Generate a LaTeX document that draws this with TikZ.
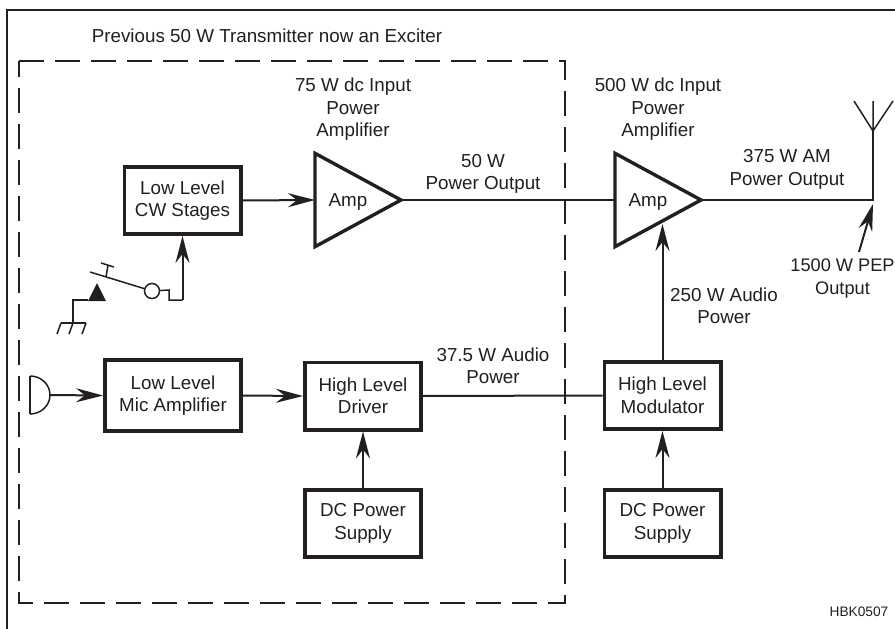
\documentclass[tikz,border=0pt]{standalone}
\usepackage{fontspec}
\setmainfont{Liberation Sans}
\usetikzlibrary{arrows.meta,shapes.geometric,calc}
\definecolor{ink}{HTML}{231F20}
\tikzset{
  lbl/.style={inner sep=0pt,align=center,text=ink,font=\fontsize{18.8}{22.5}\selectfont},
  blockbox/.style={draw=ink,line width=3.6pt,fill=white,minimum width=116.4pt,minimum height=67.4pt,inner sep=0pt,align=center,text=ink,font=\fontsize{18.8}{22.5}\selectfont},
  ampbox/.style={draw=ink,line width=3.4pt,fill=white,isosceles triangle,isosceles triangle apex angle=57,minimum height=86pt,inner sep=0pt,outer sep=0pt,anchor=lower side},
  wire/.style={draw=ink,line width=2pt},
  feed/.style={wire,-{Stealth[length=27pt,width=14pt,inset=9pt]}},
  thin wire/.style={draw=ink,line width=1.5pt},
  dash box/.style={draw=ink,line width=2.2pt,dash pattern=on 25pt off 11pt}
}
\begin{document}
\begin{tikzpicture}[x=1pt,y=-1pt]
\useasboundingbox (0,0) rectangle (895,629);
\fill[white] (0,0) rectangle (895,629);
% frame
\draw[ink,line width=2.4pt] (7,629) -- (7,10) -- (895,10);
% dashed enclosure
\draw[dash box] (19,61) -- (565,61) -- (565,603) -- (19,603) -- cycle;
\node[lbl] (title) at (267,36) {Previous 50 W Transmitter now an Exciter};
% blocks
\node[blockbox] (cw) at (182.5,200.5) {Low Level\\CW Stages};
\node[blockbox,minimum width=136.4pt,minimum height=71pt] (mic) at (173,395.5) {Low Level\\Mic Amplifier};
\node[blockbox] (drv) at (363,396) {High Level\\Driver};
\node[blockbox] (mod) at (662.5,395.5) {High Level\\Modulator};
\node[blockbox] (dc1) at (363,523.5) {DC Power\\Supply};
\node[blockbox] (dc2) at (662.5,523.5) {DC Power\\Supply};
\node[ampbox] (a1) at (315,200) {};
\node[ampbox] (a2) at (615,200) {};
\node[lbl,anchor=base] (a1t) at (348,206) {Amp};
\node[lbl,anchor=base] (a2t) at (648,206) {Amp};
% antenna
\coordinate (ant) at (873,131);
\coordinate (junc) at (873,200);
\coordinate (anttop) at (873,101);
\coordinate (antl) at (854,101);
\coordinate (antr) at (893,101);
\draw[wire] (a2.apex) -- (junc) -- (ant);
\draw[thin wire] (anttop) -- (ant) (antl) -- (ant) -- (antr);
% connections
\draw[feed] (cw.east) -- (a1.lower side);
\draw[wire] (a1.apex) -- (a2.lower side);
\draw[feed] (mic.east) -- (drv.west);
\draw[wire] (drv.east) -- (mod.west);
\draw[feed] (dc1.north) -- (drv.south);
\draw[feed] (dc2.north) -- (mod.south);
\coordinate (a2in) at (662.5,224);
\draw[feed] (mod.north) -- (a2in);
% microphone
\node[draw=none,inner sep=0pt,minimum size=0pt] (micsym) at (50,395) {};
\draw[thin wire,fill=white] (30,376) arc[start angle=90,end angle=-90,x radius=20pt,y radius=19pt];
\draw[thin wire] (30,376) -- (30,414);
\draw[feed] (micsym) -- (mic.west);
% key
\node[draw=ink,line width=1.5pt,circle,minimum size=15pt,inner sep=0pt,fill=white] (keyc) at (152,291) {};
\coordinate (keyend) at (90,272);
\coordinate (stem) at (106,277);
\coordinate (stemtop) at (108,265);
\coordinate (capl) at (101,263);
\coordinate (capr) at (114,267);
\coordinate (w1) at (169,290);
\coordinate (w2) at (169,300);
\coordinate (w3) at (182.5,300);
\draw[thin wire] (keyend) -- (keyc);
\draw[thin wire] (stem) -- (stemtop) (capl) -- (capr);
\draw[thin wire] (keyc) -- (w1) -- (w2) -- (w3);
\draw[feed] (w3) -- (cw.south);
% contact and ground
\coordinate (tria) at (97,283);
\coordinate (trib) at (106,301);
\coordinate (tric) at (88,301);
\fill[ink] (tria) -- (trib) -- (tric) -- cycle;
\coordinate (g0) at (73,300);
\coordinate (g1) at (73,323);
\draw[thin wire] (tric) ++(0,-1) -- (g0) -- (g1);
\draw[thin wire] (61,323) -- (86,323);
\draw[thin wire] (61,323) -- (57,334) (73,323) -- (69,334) (86,323) -- (82,334);
% PEP arrow
\node[lbl,font=\fontsize{18.2}{22.5}\selectfont] (pep) at (842.5,278.5) {1500 W PEP\\Output};
\coordinate (peptail) at (859,252);
\coordinate (pephead) at (873,204);
\draw[feed] (peptail) -- (pephead);
% labels
\node[lbl] (l75) at (353,109.5) {75 W dc Input\\Power\\Amplifier};
\node[lbl] (l500) at (658,109.5) {500 W dc Input\\Power\\Amplifier};
\node[lbl] (l50) at (483,174) {50 W\\Power Output};
\node[lbl] (l375) at (787,169.5) {375 W AM\\Power Output};
\node[lbl] (l375a) at (493,366) {37.5 W Audio\\Power};
\node[lbl] (l250) at (724,306) {250 W Audio\\Power};
\node[lbl,font=\fontsize{13.7}{15}\selectfont] (hbk) at (859,612) {HBK0507};
\end{tikzpicture}
\end{document}
